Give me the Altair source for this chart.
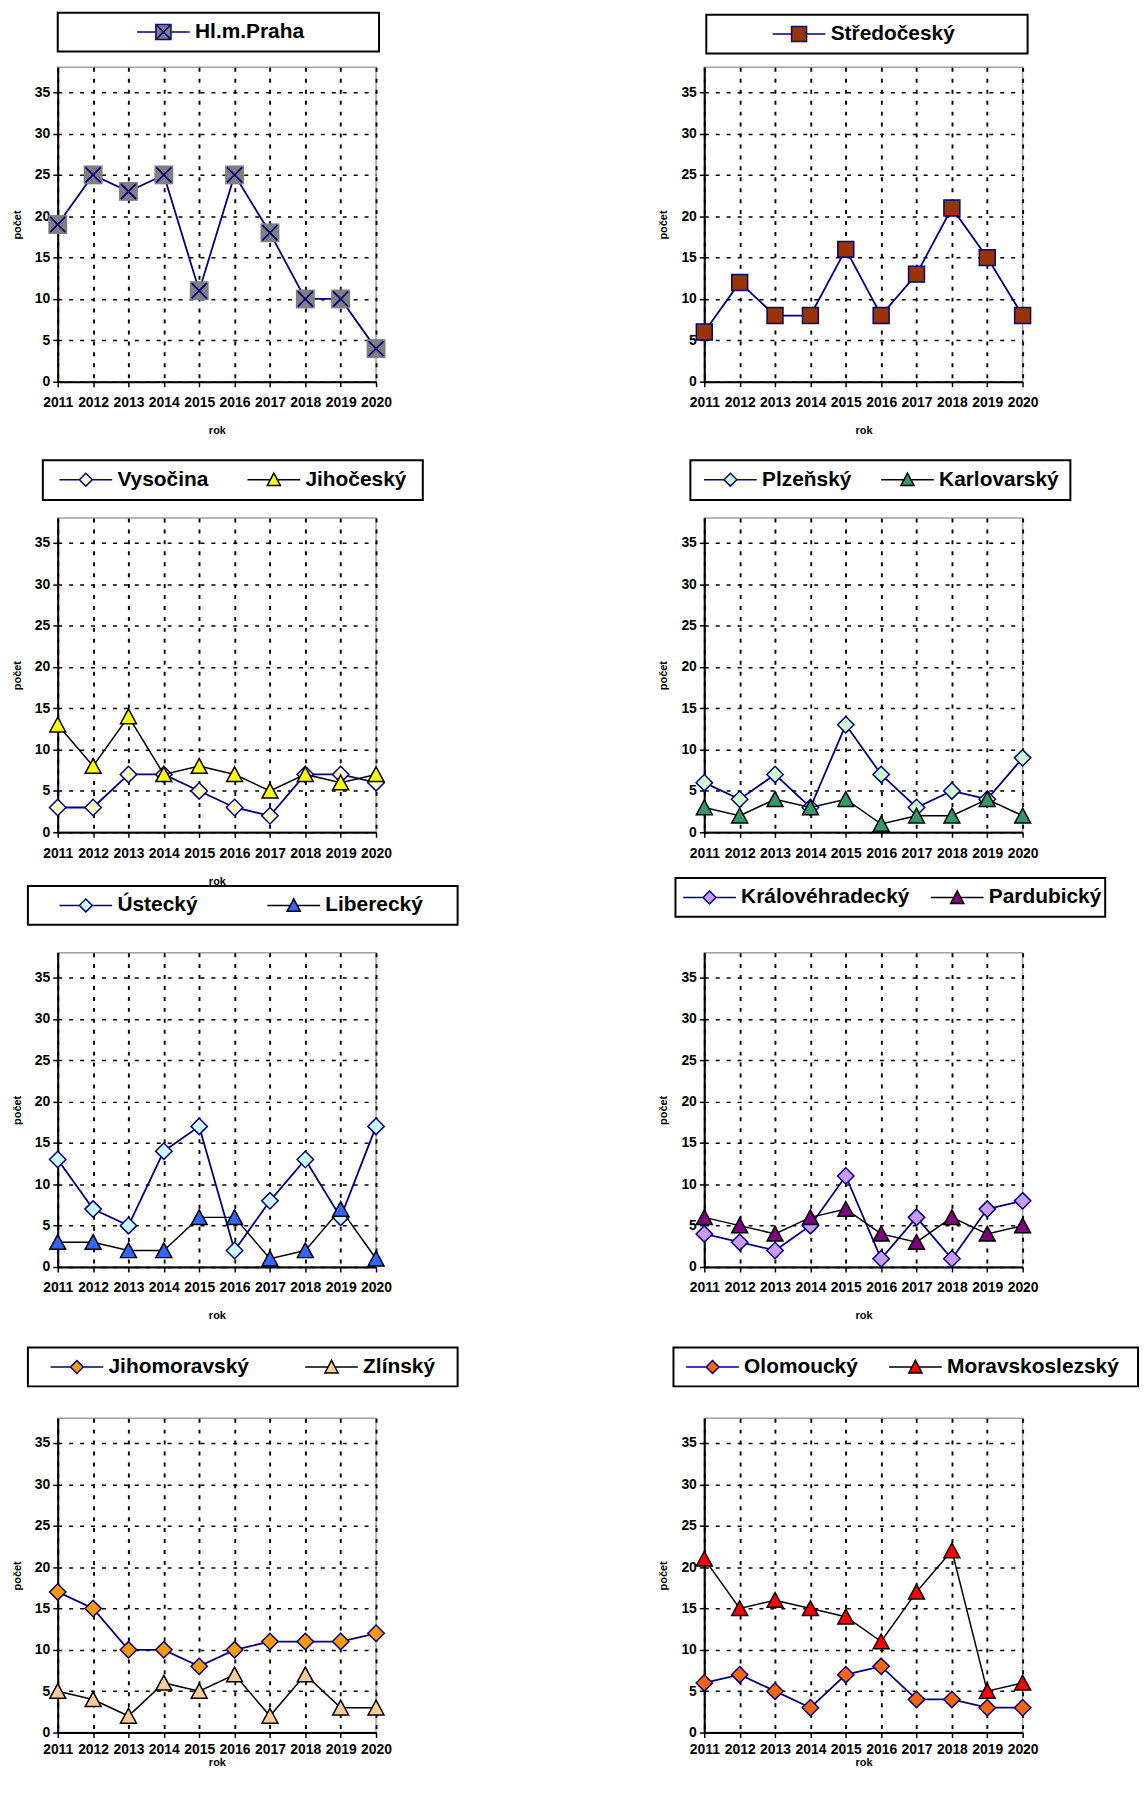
import altair as alt
import pandas as pd

FONT = "Liberation Sans"
YEARS = [2011, 2012, 2013, 2014, 2015, 2016, 2017, 2018, 2019, 2020]
Y_TICKS = [0, 5, 10, 15, 20, 25, 30, 35]

PRAHA = [19, 25, 23, 25, 11, 25, 18, 10, 10, 4]
STREDOCESKY = [6, 12, 8, 8, 16, 8, 13, 21, 15, 8]
VYSOCINA = [3, 3, 7, 7, 5, 3, 2, 7, 7, 6]
JIHOCESKY = [13, 8, 14, 7, 8, 7, 5, 7, 6, 7]
PLZENSKY = [6, 4, 7, 3, 13, 7, 3, 5, 4, 9]
KARLOVARSKY = [3, 2, 4, 3, 4, 1, 2, 2, 4, 2]
USTECKY = [13, 7, 5, 14, 17, 2, 8, 13, 6, 17]
LIBERECKY = [3, 3, 2, 2, 6, 6, 1, 2, 7, 1]
KRALOVEHRADECKY = [4, 3, 2, 5, 11, 1, 6, 1, 7, 8]
PARDUBICKY = [6, 5, 4, 6, 7, 4, 3, 6, 4, 5]
JIHOMORAVSKY = [17, 15, 10, 10, 8, 10, 11, 11, 11, 12]
ZLINSKY = [5, 4, 2, 6, 5, 7, 2, 7, 3, 3]
OLOMOUCKY = [6, 7, 5, 3, 7, 8, 4, 4, 3, 3]
MORAVSKOSLEZSKY = [21, 15, 16, 15, 14, 11, 17, 22, 5, 6]

NAVY = "#000080"
BLACK = "#000000"

MARK = {
    "dia": ("M0,-1L1,0L0,1L-1,0Z", 272),
    "tri": ("M0,-0.95L1,0.9L-1,0.9Z", 256),
    "sq": ("M-1,-1H1V1H-1Z", 256),
}
PATH_XSQ = ("M-1,-1H1V1H-1Z", 361)
PATH_X = "M-0.8,-0.8L0.8,0.8M0.8,-0.8L-0.8,0.8"

LEG = {
    "dia": "M-1,0H0.51M1.49,0H3M1,-0.49L1.49,0L1,0.49L0.51,0Z",
    "tri": "M-1,0H0.74M1.26,0H3M1,-0.5L1.5,0.45L0.5,0.45Z",
    "sq": "M-1,0H0.43M1.57,0H3M0.43,-0.57H1.57V0.57H0.43Z",
    "xsq": "M-1,0H0.43M1.57,0H3M0.43,-0.57H1.57V0.57H0.43ZM0.5,-0.5L1.5,0.5M1.5,-0.5L0.5,0.5",
}

PANELS = [
    dict(series=[("Hl.m.Praha", PRAHA, "xsq", "#808080", NAVY, NAVY)],
         frame=(0, 323, -55, -16), lx=79, cp=0, tp=15, lp=9),
    dict(series=[("Středočeský", STREDOCESKY, "sq", "#993300", NAVY, NAVY)],
         frame=(2, 325, -53, -14), lx=68, cp=0, tp=15, lp=9),
    dict(series=[("Vysočina", VYSOCINA, "dia", "#FFFFCC", NAVY, NAVY),
                 ("Jihočeský", JIHOCESKY, "tri", "#FFFF00", BLACK, BLACK)],
         frame=(-15, 367, -58, -18), lx=1, cp=35, tp=15, lp=9),
    dict(series=[("Plzeňský", PLZENSKY, "dia", "#CCFFCC", NAVY, NAVY),
                 ("Karlovarský", KARLOVARSKY, "tri", "#339966", BLACK, BLACK)],
         frame=(-14, 368, -58, -18), lx=-1, cp=26, tp=15, lp=9),
    dict(series=[("Ústecký", USTECKY, "dia", "#CCFFFF", NAVY, NAVY),
                 ("Liberecký", LIBERECKY, "tri", "#3366FF", BLACK, BLACK)],
         frame=(-30, 402, -67, -28), lx=1, cp=66, tp=15, lp=9),
    dict(series=[("Královéhradecký", KRALOVEHRADECKY, "dia", "#CC99FF", NAVY, NAVY),
                 ("Pardubický", PARDUBICKY, "tri", "#800080", BLACK, BLACK)],
         frame=(-29, 403, -75, -36), lx=-22, cp=17, tp=15, lp=9),
    dict(series=[("Jihomoravský", JIHOMORAVSKY, "dia", "#FF9900", NAVY, NAVY),
                 ("Zlínský", ZLINSKY, "tri", "#FFCC99", BLACK, BLACK)],
         frame=(-30, 402, -71, -32), lx=-8, cp=52, tp=0, lp=5),
    dict(series=[("Olomoucký", OLOMOUCKY, "dia", "#FF6600", NAVY, NAVY),
                 ("Moravskoslezský", MORAVSKOSLEZSKY, "tri", "#FF0000", BLACK, BLACK)],
         frame=(-31, 436, -71, -32), lx=-19, cp=27, tp=0, lp=5),
]

W, H = 320, 316

y_enc = alt.Y("v:Q",
              scale=alt.Scale(domain=[0, 38], nice=False),
              axis=alt.Axis(values=Y_TICKS, title="počet", labelPadding=3,
                            titlePadding=12, labelOverlap=False))


def panel(p):
    x_enc = alt.X("year:Q",
                  scale=alt.Scale(domain=[2011, 2020], nice=False, zero=False),
                  axis=alt.Axis(values=YEARS, format="d", title="rok", labelFlush=False,
                                labelOverlap=False, labelPadding=p["lp"], titlePadding=p["tp"],
                                gridWidth=1.9))
    rows = []
    for name, vals, *_ in p["series"]:
        for yr, v in zip(YEARS, vals):
            rows.append({"year": yr, "v": v, "series": name})
    df = pd.DataFrame(rows)
    base = alt.Chart(df)
    layers = []
    fx0, fx1, fy0, fy1 = p["frame"]
    layers.append(
        alt.Chart(pd.DataFrame({"k": [0]})).mark_rect(fill="white", stroke="black", strokeWidth=2)
        .encode(x=alt.value(fx0), x2=alt.value(fx1), y=alt.value(fy0), y2=alt.value(fy1))
    )
    for name, vals, mk, fillc, strokec, linec in p["series"]:
        sub = base.transform_filter(alt.datum.series == name)
        layers.append(sub.mark_line(color=linec, strokeWidth=1.8 if linec == NAVY else 1.5)
                      .encode(x=x_enc, y=y_enc))
        if mk == "xsq":
            layers.append(sub.mark_point(shape=PATH_XSQ[0], size=PATH_XSQ[1], filled=True,
                                         fill=fillc, strokeWidth=0, opacity=1)
                          .encode(x=x_enc, y=y_enc))
            layers.append(sub.mark_point(shape=PATH_X, size=PATH_XSQ[1], filled=False,
                                         stroke=strokec, strokeWidth=1.8, opacity=1)
                          .encode(x=x_enc, y=y_enc))
        else:
            path, size = MARK[mk]
            layers.append(sub.mark_point(shape=path, size=size, filled=True, fill=fillc,
                                         stroke=strokec, strokeWidth=1.5, opacity=1)
                          .encode(x=x_enc, y=y_enc))
    names = [s[0] for s in p["series"]]
    leg = alt.Legend(title=None, orient="none", legendX=p["lx"], legendY=fy0 + 5.5,
                     direction="horizontal", columnPadding=p["cp"], padding=0,
                     labelOffset=31, symbolSize=702.25, symbolStrokeWidth=1.5,
                     symbolOpacity=1, labelFont=FONT, labelFontSize=21,
                     labelFontWeight="bold", labelColor="black", labelLimit=400)
    layers.append(
        base.transform_filter("datum.v < -100").mark_point(filled=True, opacity=1)
        .encode(
            x=x_enc, y=y_enc,
            shape=alt.Shape("series:N", scale=alt.Scale(domain=names, range=[LEG[s[2]] for s in p["series"]]), legend=leg),
            fill=alt.Fill("series:N", scale=alt.Scale(domain=names, range=[s[3] for s in p["series"]]), legend=leg),
            stroke=alt.Stroke("series:N", scale=alt.Scale(domain=names, range=[s[4] for s in p["series"]]), legend=leg),
        )
    )
    return alt.layer(*layers).properties(width=W, height=H)


def indep(c):
    return c.resolve_scale(shape="independent", fill="independent", stroke="independent",
                           x="independent", y="independent")


charts = [panel(p) for p in PANELS]
# nested concat groups count as zero height with flush bounds, so spacing = distance between row tops
rows = [indep(alt.hconcat(charts[2 * i], charts[2 * i + 1], spacing=330, bounds="flush")) for i in range(4)]
top = indep(alt.vconcat(rows[0], rows[1], spacing=453, bounds="flush"))
bottom = indep(alt.vconcat(rows[2], rows[3], spacing=468, bounds="flush"))
chart = indep(alt.vconcat(top, bottom, spacing=890, bounds="flush")).properties(
    padding={"left": 2, "top": -2, "right": 0, "bottom": 0},
    background="white",
).configure_axis(
    labelFont=FONT, labelFontSize=14, labelFontWeight="bold", labelColor="black",
    titleFont=FONT, titleFontSize=11, titleFontWeight="bold", titleColor="black",
    domainColor="black", domainWidth=2, tickColor="black", tickWidth=1.5, tickSize=5,
    grid=True, gridColor="black", gridDash=[4, 7], gridWidth=1.5, gridOpacity=1,
).configure_view(stroke="#a0a0a0", strokeWidth=1.5)

chart.save("out.html", embed_options={"renderer": "svg", "actions": False})
